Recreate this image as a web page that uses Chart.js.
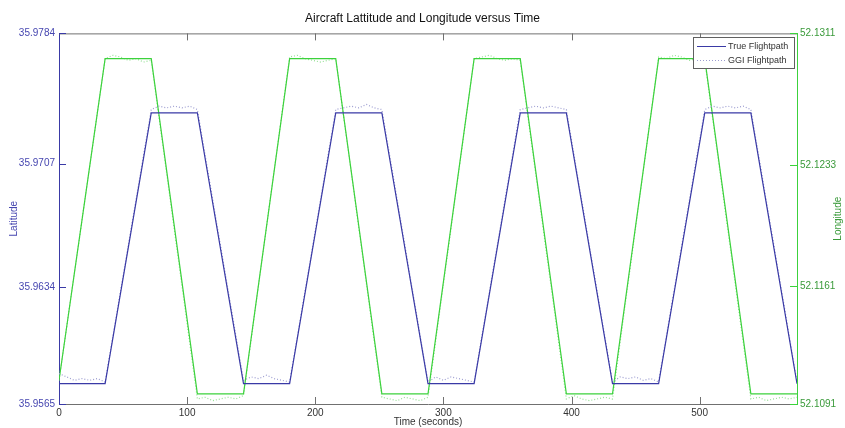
<!DOCTYPE html>
<html>
<head>
<meta charset="utf-8">
<script src="https://cdn.jsdelivr.net/npm/chart.js@4.4.2/dist/chart.umd.min.js"></script>
<style>
  html, body { margin: 0; padding: 0; background: #ffffff; }
  #wrap { width: 845px; height: 428px; }
</style>
</head>
<body>
<div id="wrap"><canvas id="flightChart" width="845" height="428"></canvas></div>
<script>
// Time axis
const timeTicks = [0, 100, 200, 300, 400, 500];
const latTicks = [35.9565, 35.9634, 35.9707, 35.9784];
const lonTicks = [52.1091, 52.1161, 52.1233, 52.1311];

// True flightpath (corners of the rectangle pattern)
const trueTime = [0, 36, 72, 108, 144, 180, 216, 252, 288, 324, 360, 396, 432, 468, 504, 540, 576];
const trueLat = [35.9577, 35.9577, 35.9737, 35.9737, 35.9577, 35.9577, 35.9737, 35.9737, 35.9577,
                 35.9577, 35.9737, 35.9737, 35.9577, 35.9577, 35.9737, 35.9737, 35.9577];
const trueLon = [52.1105, 52.1296, 52.1296, 52.1097, 52.1097, 52.1296, 52.1296, 52.1097, 52.1097,
                 52.1296, 52.1296, 52.1097, 52.1097, 52.1296, 52.1296, 52.1097, 52.1097];

// GGI flightpath (noisy estimate)
const ggiLatTime = [0, 6, 12, 18, 24, 30, 36,
                    72, 78, 84, 90, 96, 102, 108,
                    144, 150, 156, 162, 168, 174, 180,
                    216, 222, 228, 234, 240, 246, 252,
                    288, 294, 300, 306, 312, 318, 324,
                    360, 366, 372, 378, 384, 390, 396,
                    432, 438, 444, 450, 456, 462, 468,
                    504, 510, 516, 522, 528, 534, 540,
                    576];
const ggiLat = [35.9583, 35.9581, 35.9579, 35.9580, 35.9579, 35.9580, 35.9578,
                35.9739, 35.9741, 35.9740, 35.9741, 35.9740, 35.9741, 35.9739,
                35.9579, 35.9581, 35.9580, 35.9582, 35.9580, 35.9579, 35.9578,
                35.9739, 35.9740, 35.9741, 35.9740, 35.9742, 35.9740, 35.9739,
                35.9578, 35.9581, 35.9579, 35.9581, 35.9580, 35.9579, 35.9578,
                35.9739, 35.9740, 35.9741, 35.9740, 35.9741, 35.9740, 35.9739,
                35.9578, 35.9581, 35.9580, 35.9581, 35.9579, 35.9580, 35.9578,
                35.9739, 35.9741, 35.9740, 35.9741, 35.9740, 35.9741, 35.9739,
                35.9578];
const ggiLonTime = [0,
                    36, 42, 48, 54, 60, 66, 72,
                    108, 114, 120, 126, 132, 138, 144,
                    180, 186, 192, 198, 204, 210, 216,
                    252, 258, 264, 270, 276, 282, 288,
                    324, 330, 336, 342, 348, 354, 360,
                    396, 402, 408, 414, 420, 426, 432,
                    468, 474, 480, 486, 492, 498, 504,
                    540, 546, 552, 558, 564, 570, 576];
const ggiLon = [52.1105,
                52.1296, 52.1298, 52.1297, 52.1295, 52.1296, 52.1294, 52.1295,
                52.1094, 52.1095, 52.1093, 52.1094, 52.1095, 52.1094, 52.1096,
                52.1297, 52.1298, 52.1296, 52.1295, 52.1294, 52.1295, 52.1296,
                52.1095, 52.1094, 52.1093, 52.1095, 52.1094, 52.1093, 52.1095,
                52.1296, 52.1297, 52.1298, 52.1296, 52.1295, 52.1296, 52.1295,
                52.1094, 52.1096, 52.1094, 52.1093, 52.1094, 52.1095, 52.1094,
                52.1297, 52.1296, 52.1298, 52.1297, 52.1295, 52.1296, 52.1295,
                52.1094, 52.1095, 52.1093, 52.1094, 52.1095, 52.1094, 52.1095];

const BLUE = "#3a3aa6";
const GREEN = "#3cd23c";
const GGI_BLUE = "#9c9cd0";
const GGI_GREEN = "#94e094";
const FONT = "'Liberation Sans', Arial, sans-serif";

function toPoints(xs, ys) {
    return xs.map((x, i) => ({ x: x, y: ys[i] }));
}

// inward ticks, top box edge, legend and right axis title
const matlabBits = {
    id: "matlabBits",
    afterDraw(chart) {
        const ctx = chart.ctx;
        const a = chart.chartArea;
        const xs = chart.scales.x, yl = chart.scales.yLat, yr = chart.scales.yLon;
        ctx.save();
        ctx.lineWidth = 1;
        // top edge of box
        ctx.strokeStyle = "#707070";
        ctx.beginPath();
        ctx.moveTo(a.left, a.top + 0.5);
        ctx.lineTo(a.right, a.top + 0.5);
        ctx.stroke();
        // x ticks bottom and top
        timeTicks.forEach(t => {
            if (t === 0) return;
            const px = Math.round(xs.getPixelForValue(t)) + 0.5;
            ctx.beginPath();
            ctx.moveTo(px, a.bottom);
            ctx.lineTo(px, a.bottom - 7);
            ctx.moveTo(px, a.top);
            ctx.lineTo(px, a.top + 7);
            ctx.stroke();
        });
        // left ticks
        ctx.strokeStyle = BLUE;
        latTicks.forEach(v => {
            const py = Math.round(yl.getPixelForValue(v)) + 0.5;
            ctx.beginPath();
            ctx.moveTo(a.left, py);
            ctx.lineTo(a.left + 7, py);
            ctx.stroke();
        });
        // right ticks
        ctx.strokeStyle = GREEN;
        lonTicks.forEach(v => {
            const py = Math.round(yr.getPixelForValue(v)) + 0.5;
            ctx.beginPath();
            ctx.moveTo(a.right, py);
            ctx.lineTo(a.right - 7, py);
            ctx.stroke();
        });
        // right axis title, bottom to top like the left one
        ctx.fillStyle = "#3a9a3a";
        ctx.font = "10px " + FONT;
        ctx.textAlign = "center";
        ctx.textBaseline = "middle";
        ctx.translate(838, (a.top + a.bottom) / 2);
        ctx.rotate(-Math.PI / 2);
        ctx.fillText("Longitude", 0, 0);
        ctx.setTransform(1, 0, 0, 1, 0, 0);

        // legend box
        const lx = 693, ly = 37, lw = 101, lh = 31;
        ctx.fillStyle = "#ffffff";
        ctx.fillRect(lx, ly, lw, lh);
        ctx.strokeStyle = "#606060";
        ctx.strokeRect(lx + 0.5, ly + 0.5, lw, lh);
        ctx.font = "9px " + FONT;
        const ds = chart.data.datasets;
        [0, 1].forEach((k, i) => {
            const y = ly + 9 + i * 14;
            ctx.strokeStyle = ds[k].borderColor;
            ctx.setLineDash(ds[k].borderDash || []);
            ctx.beginPath();
            ctx.moveTo(lx + 4, y + 0.5);
            ctx.lineTo(lx + 33, y + 0.5);
            ctx.stroke();
            ctx.setLineDash([]);
            ctx.fillStyle = "#333333";
            ctx.textAlign = "left";
            ctx.fillText(ds[k].label, lx + 35, y + 1);
        });
        ctx.restore();
    }
};

new Chart(document.getElementById("flightChart"), {
    type: "line",
    data: {
        datasets: [
            { label: "True Flightpath", data: toPoints(trueTime, trueLat), yAxisID: "yLat",
              borderColor: BLUE, borderWidth: 1.2 },
            { label: "GGI Flightpath", data: toPoints(ggiLatTime, ggiLat), yAxisID: "yLat",
              borderColor: GGI_BLUE, borderWidth: 1.2, borderDash: [1, 2] },
            { label: "True Flightpath (lon)", data: toPoints(trueTime, trueLon), yAxisID: "yLon",
              borderColor: GREEN, borderWidth: 1.2 },
            { label: "GGI Flightpath (lon)", data: toPoints(ggiLonTime, ggiLon), yAxisID: "yLon",
              borderColor: GGI_GREEN, borderWidth: 1.2, borderDash: [1, 2] }
        ]
    },
    options: {
        responsive: false,
        animation: false,
        elements: { point: { radius: 0 }, line: { tension: 0, fill: false } },
        layout: { padding: { top: 0, right: 0, bottom: 0, left: 0 } },
        plugins: {
            legend: { display: false },
            tooltip: { enabled: false },
            title: {
                display: true,
                text: "Aircraft Lattitude and Longitude versus Time",
                color: "#111111",
                font: { family: FONT, size: 12, weight: "normal" },
                padding: { top: 11, bottom: 8 }
            }
        },
        scales: {
            x: {
                type: "linear",
                min: 0,
                max: 576,
                afterBuildTicks: s => { s.ticks = timeTicks.map(v => ({ value: v })); },
                afterFit: s => { s.height = 24; },
                grid: { display: false, drawTicks: false },
                border: { color: "#707070" },
                ticks: { color: "#333333", padding: 3, maxRotation: 0,
                         font: { family: FONT, size: 10 } },
                title: { display: true, text: "Time (seconds)", color: "#333333", padding: 0,
                         font: { family: FONT, size: 10 } }
            },
            yLat: {
                position: "left",
                min: 35.9565,
                max: 35.9784,
                afterBuildTicks: s => { s.ticks = latTicks.map(v => ({ value: v })); },
                afterFit: s => { s.width = 59; },
                grid: { display: false, drawTicks: false },
                border: { color: BLUE },
                ticks: { color: "#4646b0", padding: 4, callback: v => v.toFixed(4),
                         font: { family: FONT, size: 10 } },
                title: { display: true, text: "Latitude", color: "#4646b0", padding: 8,
                         font: { family: FONT, size: 10 } }
            },
            yLon: {
                position: "right",
                min: 52.1091,
                max: 52.1311,
                afterBuildTicks: s => { s.ticks = lonTicks.map(v => ({ value: v })); },
                afterFit: s => { s.width = 48; },
                grid: { display: false, drawTicks: false },
                border: { color: GREEN },
                ticks: { color: "#3a9a3a", padding: 3, callback: v => v.toFixed(4),
                         font: { family: FONT, size: 10 } }
            }
        }
    },
    plugins: [matlabBits]
});
</script>
</body>
</html>
